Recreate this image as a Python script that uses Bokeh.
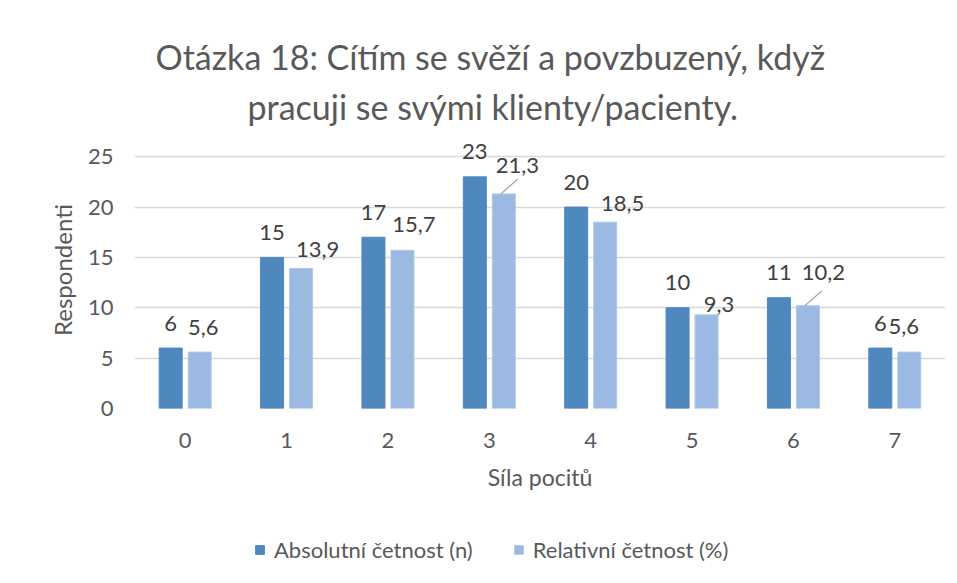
from bokeh.plotting import figure
from bokeh.layouts import column
from bokeh.models import Range1d, FixedTicker, Title, Legend, LegendItem, ColumnDataSource
from bokeh.core.properties import value
from bokeh.embed import file_html
from bokeh.resources import INLINE

# ---- data ----
categories = ["0", "1", "2", "3", "4", "5", "6", "7"]
absolute = [6, 15, 17, 23, 20, 10, 11, 6]
relative = [5.6, 13.9, 15.7, 21.3, 18.5, 9.3, 10.2, 5.6]
absolute_labels = ["6", "15", "17", "23", "20", "10", "11", "6"]
relative_labels = ["5,6", "13,9", "15,7", "21,3", "18,5", "9,3", "10,2", "5,6"]
y_ticks = [0, 5, 10, 15, 20, 25]
series_names = ["Absolutní četnost (n)", "Relativní četnost (%)"]
title_lines = ["Otázka 18: Cítím se svěží a povzbuzený, když",
               "pracuji se svými klienty/pacienty."]
x_title = "Síla pocitů"
y_title = "Respondenti"

# ---- layout / style (label placement in screen px) ----
rel_label_dx = [3.5, 16.5, 11.5, 13.5, 17.5, 12.5, 15.5, -5.5]
rel_label_dy = [-24.6, -19, -25.7, -28, -18.5, -10, -33, -25.6]
leader_idx = [3, 6]
title_left = [156, 248]   # page x of title line starts
ORIGIN_X = 1

FONT = "Lato"
DARK = "#4F88BE"
LIGHT = "#9BB9E1"
TXT = "#595959"

W, H = 950, 510
ML, MR, MT, MB = 134, 5, 131, 102
Y_END = 27.5
ppx = (W - ML - MR) / 8.0
ppy = (H - MT - MB) / Y_END

p = figure(width=W, height=H, output_backend="svg", toolbar_location=None,
           x_range=Range1d(-0.5, 7.5), y_range=Range1d(0, Y_END),
           min_border_left=ML, min_border_right=MR, min_border_top=MT,
           min_border_bottom=MB)
p.outline_line_color = None
p.background_fill_color = "white"
p.border_fill_color = "white"

off, bw = 0.143, 0.227
xs = list(range(len(categories)))
src = ColumnDataSource(dict(
    xa=[i - off for i in xs], xr=[i + off for i in xs],
    a=absolute, r=relative, al=absolute_labels, rl=relative_labels,
    dx=rel_label_dx, dy=rel_label_dy))

bar_a = dict(x="xa", top="a", width=bw, source=src, fill_color=DARK, line_color=DARK)
bar_r = dict(x="xr", top="r", width=bw, source=src, fill_color=LIGHT, line_color="#B0C9E8")
p.vbar(**bar_a)
p.vbar(**bar_r)

p.text(x="xa", y="a", text="al", source=src, y_offset=-25, text_align="center",
       text_baseline="middle", text_font=value(FONT), text_font_size="22px",
       text_color="#404040")
p.text(x="xr", y="r", text="rl", source=src, x_offset="dx", y_offset="dy",
       text_align="center", text_baseline="middle", text_font=value(FONT),
       text_font_size="22px", text_color="#404040")

# leader lines for moved labels
lx0 = [xs[i] + off - 3 / ppx for i in leader_idx]
ly0 = [relative[i] for i in leader_idx]
lx1 = [xs[i] + off + 14 / ppx for i in leader_idx]
ly1 = [relative[i] + 15 / ppy for i in leader_idx]
p.segment(x0=lx0, y0=ly0, x1=lx1, y1=ly1, line_color="#A6A6A6", line_width=1.2)

# axes
p.xaxis.ticker = FixedTicker(ticks=xs)
p.xaxis.major_label_overrides = {i: c for i, c in zip(xs, categories)}
p.yaxis.ticker = FixedTicker(ticks=y_ticks)
for ax in (p.xaxis[0], p.yaxis[0]):
    ax.axis_line_color = None
    ax.major_tick_line_color = None
    ax.minor_tick_line_color = None
    ax.major_tick_out = 0
    ax.major_tick_in = 0
    ax.major_label_text_font = FONT
    ax.major_label_text_font_size = "22px"
    ax.major_label_text_color = TXT
    ax.axis_label_text_font = FONT
    ax.axis_label_text_color = TXT
    ax.axis_label_text_font_style = "normal"
p.xaxis.axis_label_text_font_size = "23px"
p.yaxis.axis_label_text_font_size = "24px"
p.xaxis.axis_label = x_title
p.yaxis.axis_label = y_title
p.xaxis.major_label_standoff = 24
p.xaxis.axis_label_standoff = 12
p.yaxis.major_label_standoff = 21
p.yaxis.axis_label_standoff = 8

p.xgrid.grid_line_color = None
p.ygrid.grid_line_color = "#D9D9D9"
p.ygrid.grid_line_width = 1.5

# titles (second line added first: closer to plot)
p.add_layout(Title(text=title_lines[1], align="left", text_font=FONT, text_font_size="34px",
                   text_font_style="normal", text_color=TXT, standoff=10,
                   offset=title_left[1] - ORIGIN_X - ML), "above")
p.add_layout(Title(text=title_lines[0], align="left", text_font=FONT, text_font_size="34px",
                   text_font_style="normal", text_color=TXT, standoff=3,
                   offset=title_left[0] - ORIGIN_X - ML), "above")

# ---- legend strip below the chart (same series, drawn off-range) ----
LH = 62
pl = figure(width=W, height=LH, output_backend="svg", toolbar_location=None,
            x_range=Range1d(100, 101), y_range=Range1d(100, 101),
            min_border=0, min_border_left=0, min_border_right=0,
            min_border_top=0, min_border_bottom=0)
pl.axis.visible = False
pl.grid.visible = False
pl.outline_line_color = None
pl.background_fill_color = "white"
pl.border_fill_color = "white"
la = pl.vbar(**bar_a)
lr = pl.vbar(**bar_r)
legend = Legend(items=[LegendItem(label=series_names[0], renderers=[la]),
                       LegendItem(label=series_names[1], renderers=[lr])],
                orientation="horizontal", location=(120, 9), padding=0, margin=0,
                spacing=40, glyph_width=11, glyph_height=11, label_standoff=9,
                label_text_font=FONT, label_text_font_size="22px", label_text_color=TXT,
                label_height=20, border_line_color=None, background_fill_alpha=0)
pl.add_layout(legend)

open("out.html", "w").write(file_html(column(p, pl, spacing=0), INLINE))
